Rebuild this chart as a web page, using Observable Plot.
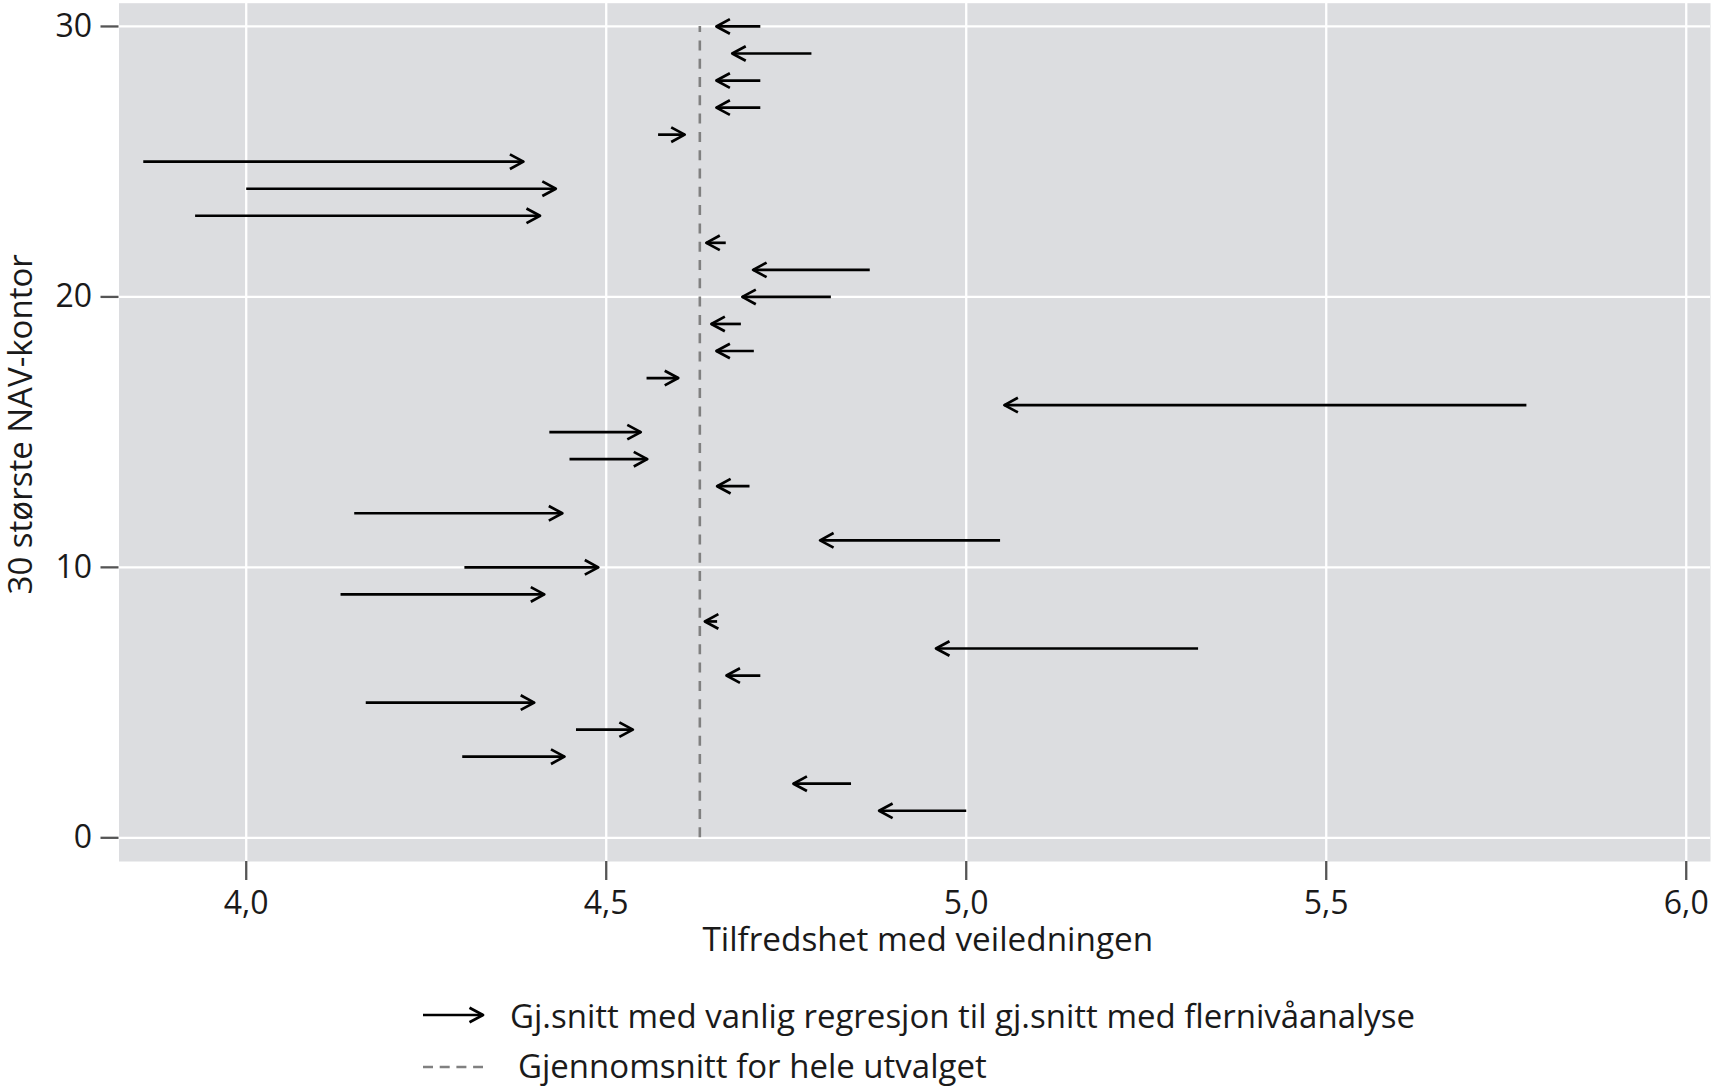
<!DOCTYPE html>
<html>
<head>
<meta charset="utf-8">
<script src="https://cdn.jsdelivr.net/npm/d3@7"></script>
<script src="https://cdn.jsdelivr.net/npm/@observablehq/plot@0.6"></script>
<style>
  html, body { margin: 0; padding: 0; background: white; }
  body { position: relative; width: 1713px; height: 1088px; overflow: hidden; font-family: "Open Sans", sans-serif; }
  #legend { position: absolute; left: 0; top: 975px; width: 1713px; height: 113px; }
  #legend .txt { position: absolute; font-size: 33px; line-height: 33px; color: #1a1a1a; white-space: nowrap; }
  #legend svg { position: absolute; overflow: visible; }
</style>
</head>
<body>
<div id="chart"></div>
<div id="legend"></div>
<script>
// Office rank (30 largest NAV offices)
const office = [1,2,3,4,5,6,7,8,9,10,11,12,13,14,15,16,17,18,19,20,21,22,23,24,25,26,27,28,29,30];
// Mean with ordinary regression (arrow tail)
const vanligRegresjon = [5.000,4.840,4.300,4.458,4.166,4.714,5.322,4.654,4.131,4.303,
                         5.047,4.150,4.699,4.449,4.421,5.778,4.556,4.705,4.687,4.812,
                         4.866,4.666,3.929,4.000,3.857,4.572,4.714,4.714,4.785,4.714];
// Mean with multilevel analysis (arrow head)
const flernivaa = [4.879,4.760,4.442,4.537,4.400,4.667,4.958,4.637,4.414,4.489,
                   4.797,4.439,4.654,4.557,4.548,5.053,4.600,4.653,4.646,4.689,
                   4.704,4.639,4.408,4.430,4.385,4.609,4.653,4.653,4.675,4.653];
const helUtvalget = 4.63;
const xTicks = [4.0, 4.5, 5.0, 5.5, 6.0];
const yTicks = [0, 10, 20, 30];
const xLabel = "Tilfredshet med veiledningen";
const yLabel = "30 største NAV-kontor";
const legendArrow = "Gj.snitt med vanlig regresjon til gj.snitt med flernivåanalyse";
const legendDash = "Gjennomsnitt for hele utvalget";

const rows = office.map((o, i) => ({office: o, start: vanligRegresjon[i], end: flernivaa[i]}));

const SVGNS = "http://www.w3.org/2000/svg";
function chevron(color) {
  const m = document.createElementNS(SVGNS, "marker");
  m.setAttribute("viewBox", "-18 -10 22 20");
  m.setAttribute("markerWidth", 22);
  m.setAttribute("markerHeight", 20);
  m.setAttribute("refX", 0);
  m.setAttribute("refY", 0);
  m.setAttribute("markerUnits", "userSpaceOnUse");
  m.setAttribute("orient", "auto");
  m.setAttribute("overflow", "visible");
  const p = document.createElementNS(SVGNS, "path");
  p.setAttribute("d", "M-13.5,-7.3L0,0L-13.5,7.3");
  p.setAttribute("fill", "none");
  p.setAttribute("stroke", color);
  p.setAttribute("stroke-width", 2.7);
  p.setAttribute("stroke-linejoin", "round");
  m.appendChild(p);
  return m;
}

const chart = Plot.plot({
  width: 1713,
  height: 975,
  marginLeft: 118.5,
  marginRight: 3,
  marginTop: 2.7,
  marginBottom: 114,
  style: {fontFamily: "Open Sans", fontSize: "32px", background: "white", color: "#1a1a1a", overflow: "visible"},
  x: {domain: [3.8233, 6.0337], label: null},
  y: {domain: [-0.876, 30.86], label: null},
  marks: [
    Plot.frame({fill: "#dcdde0", stroke: null}),
    Plot.gridX(xTicks, {stroke: "white", strokeOpacity: 1, strokeWidth: 2.3}),
    Plot.gridY(yTicks, {stroke: "white", strokeOpacity: 1, strokeWidth: 2.3}),
    Plot.ruleX([helUtvalget], {y1: 0, y2: 30, stroke: "#808080", strokeWidth: 2.6, strokeDasharray: "10,8.3"}),
    Plot.link(rows, {x1: "start", x2: "end", y1: "office", y2: "office", stroke: "black", strokeWidth: 2.7, markerEnd: chevron}),
    Plot.axisX(xTicks, {tickSize: 19, tickPadding: 11, stroke: "#555", strokeWidth: 2.3, fill: "#1a1a1a", fontSize: 32,
      tickFormat: d => d.toFixed(1).replace(".", ","), label: null}),
    Plot.axisY(yTicks, {tickSize: 18, tickPadding: 9, stroke: "#555", strokeWidth: 2.3, fill: "#1a1a1a", fontSize: 32,
      tickFormat: d => String(d), label: null}),
    Plot.text([xLabel], {frameAnchor: "bottom", lineAnchor: "middle", textAnchor: "middle", dx: 13, dy: 79, fontSize: 33.3, fill: "#1a1a1a"}),
    Plot.text([yLabel], {frameAnchor: "left", lineAnchor: "middle", textAnchor: "middle", dx: -98, dy: -8, rotate: -90, fontSize: 33, fill: "#1a1a1a"})
  ]
});
document.getElementById("chart").appendChild(chart);

// Legend below the chart
const legend = document.getElementById("legend");
function glyph(top, dashed) {
  const s = document.createElementNS(SVGNS, "svg");
  s.setAttribute("width", 70);
  s.setAttribute("height", 20);
  s.style.left = "421px";
  s.style.top = top + "px";
  const l = document.createElementNS(SVGNS, "line");
  l.setAttribute("x1", 2); l.setAttribute("x2", 62);
  l.setAttribute("y1", 10); l.setAttribute("y2", 10);
  if (dashed) {
    l.setAttribute("stroke", "#808080");
    l.setAttribute("stroke-width", 2.6);
    l.setAttribute("stroke-dasharray", "10,6.7");
  } else {
    l.setAttribute("stroke", "black");
    l.setAttribute("stroke-width", 2.7);
    const defs = document.createElementNS(SVGNS, "defs");
    const mk = chevron("black");
    mk.setAttribute("id", "legend-arrow");
    defs.appendChild(mk);
    s.appendChild(defs);
    l.setAttribute("marker-end", "url(#legend-arrow)");
  }
  s.appendChild(l);
  legend.appendChild(s);
}
function label(text, left, top) {
  const d = document.createElement("div");
  d.className = "txt";
  d.style.left = left + "px";
  d.style.top = top + "px";
  d.textContent = text;
  legend.appendChild(d);
}
glyph(30, false);
label(legendArrow, 510, 23.7);
glyph(82, true);
label(legendDash, 518, 73.7);
</script>
</body>
</html>
